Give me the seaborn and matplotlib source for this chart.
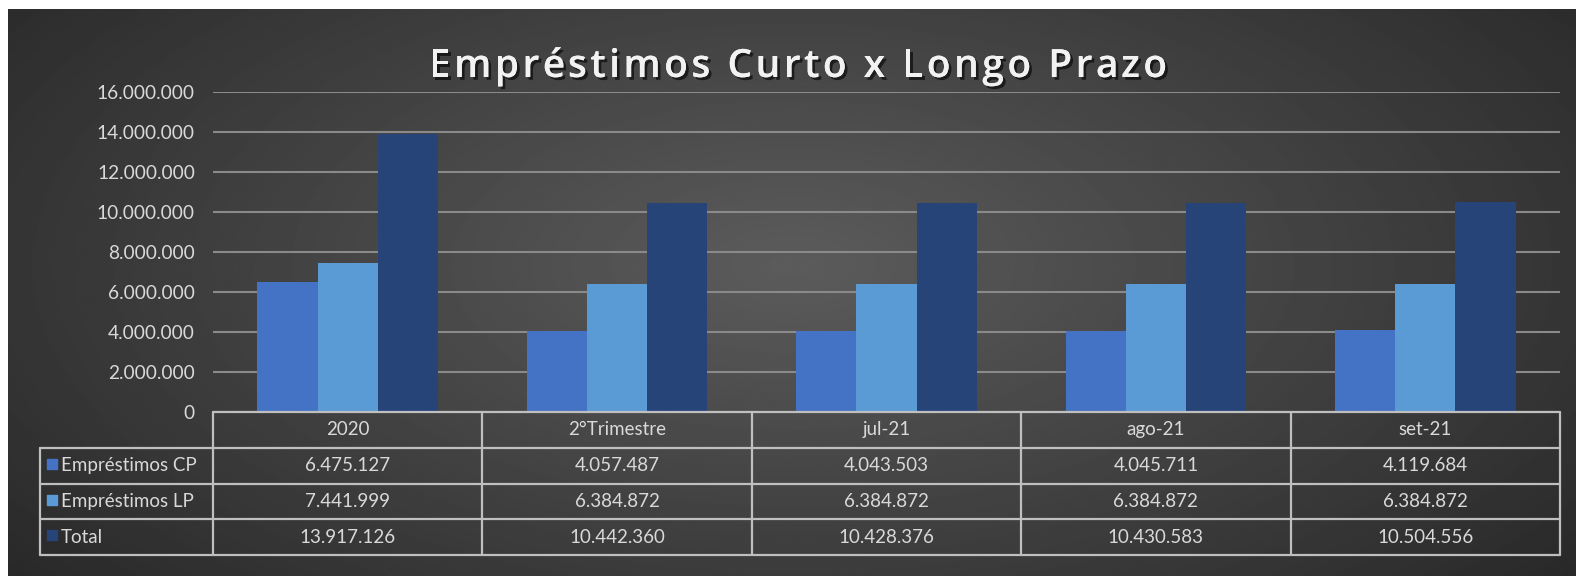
import numpy as np
import pandas as pd
import matplotlib
matplotlib.use("Agg")
import matplotlib.pyplot as plt
import matplotlib.patheffects as pe
from matplotlib.textpath import TextPath
from matplotlib.font_manager import FontProperties
import seaborn as sns

categories = ["2020", "2°Trimestre", "jul-21", "ago-21", "set-21"]
cp_values = [6475127, 4057487, 4043503, 4045711, 4119684]
lp_values = [7441999, 6384872, 6384872, 6384872, 6384872]
total_values = [13917126, 10442360, 10428376, 10430583, 10504556]
series_names = ["Empréstimos CP", "Empréstimos LP", "Total"]
yticks = [0, 2000000, 4000000, 6000000, 8000000, 10000000, 12000000, 14000000, 16000000]
title = "Empréstimos Curto x Longo Prazo"

colors = ["#4472C4", "#5B9BD5", "#264478"]

def br(v):
    return f"{v:,.0f}".replace(",", ".")

sns.set_theme(style="dark")
plt.rcParams['font.family'] = ['Lato', 'DejaVu Sans']

W, H = 1576, 576
fig = plt.figure(figsize=(W / 100, H / 100), dpi=100)
fig.patch.set_facecolor("white")

# background radial gradient
bg = fig.add_axes([8 / W, 0, (W - 8) / W, (H - 9) / H])
bg.set_axis_off()
gy, gx = np.mgrid[0:300, 0:800]
cx, cy = 400, 135
r = np.sqrt(((gx - cx) / 520.0) ** 2 + ((gy - cy) / 260.0) ** 2)
val = np.clip(0.36 - 0.20 * r, 0.15, 0.40)
bg.imshow(val, cmap="gray", vmin=0, vmax=1, aspect="auto", interpolation="bilinear")

def px_axes(x0, y0, x1, y1):
    return fig.add_axes([x0 / W, 1 - y1 / H, (x1 - x0) / W, (y1 - y0) / H])

ax = px_axes(213, 92, 1560, 412)
ax.patch.set_alpha(0)

df = pd.DataFrame({
    "cat": categories * 3,
    "serie": sum([[s] * len(categories) for s in series_names], []),
    "valor": cp_values + lp_values + total_values,
})
sns.barplot(data=df, x="cat", y="valor", hue="serie", palette=colors,
            width=0.67, gap=0, saturation=1, ax=ax, legend=False, zorder=3)
for p in ax.patches:
    p.set_edgecolor("none")

ax.set_xlim(-0.5, len(categories) - 0.5)
ax.set_ylim(0, 16000000)
ax.set_yticks(yticks)
ax.set_yticklabels([br(v) for v in yticks], color="#d9d9d9", fontsize=13.8)
ax.tick_params(axis="y", length=0, pad=13)
ax.set_xticks([])
ax.set_xlabel("")
ax.set_ylabel("")
for s in ax.spines.values():
    s.set_visible(False)
ax.grid(axis="y", color="#8a8a8a", linewidth=1.5, zorder=0)
ax.grid(axis="x", visible=False)

# title with letter spacing
tfs = 28
tprop = FontProperties(family="Open Sans", weight="semibold", size=tfs)
track = 3.5  # px extra between chars
pxpt = 100 / 72.0
adv = []
for i in range(len(title)):
    a = TextPath((0, 0), "|" + title[: i + 1] + "|", prop=tprop).get_extents().width
    b = TextPath((0, 0), "|" + title[:i] + "|", prop=tprop).get_extents().width
    adv.append((a - b) * pxpt)
total_w = sum(adv) + track * (len(title) - 1)
x = 798 - total_w / 2
ty = 1 - 62 / H
for ch, a in zip(title, adv):
    if ch != " ":
        fig.text(x / W, ty, ch, ha="left", va="center_baseline", color="#f2f2f2",
                 fontproperties=tprop,
                 path_effects=[pe.withSimplePatchShadow(offset=(2, -2), shadow_rgbFace="black", alpha=0.6),
                               pe.Normal()])
    x += a + track

# data table
tab = px_axes(213, 412, 1560, 555)
tab.set_axis_off()
tab.set_xlim(-0.5, len(categories) - 0.5)
tab.set_ylim(4, 0)
unit = (1560 - 213) / len(categories)
left = -0.5 - (213 - 40) / unit
lc = "#bfbfbf"
lw = 1.6
right = len(categories) - 0.5
tab.plot([-0.5, right], [0, 0], color=lc, lw=lw, clip_on=False)
for row in range(1, 5):
    tab.plot([left, right], [row, row], color=lc, lw=lw, clip_on=False)
tab.plot([left, left], [1, 4], color=lc, lw=lw, clip_on=False)
for i in range(len(categories) + 1):
    tab.plot([i - 0.5, i - 0.5], [0, 4], color=lc, lw=lw, clip_on=False)
tc = "#d9d9d9"
fs = 13.5
for i, c in enumerate(categories):
    tab.text(i, 0.5, c, ha="center", va="center", color=tc, fontsize=fs)
for r_i, (name, vals, col) in enumerate(zip(series_names, [cp_values, lp_values, total_values], colors)):
    y = r_i + 1.5
    tab.scatter([left + 0.045], [y - 0.05], marker="s", s=50, color=col, clip_on=False, zorder=4)
    tab.text(left + 0.077, y, name, ha="left", va="center", color=tc, fontsize=fs)
    for i, v in enumerate(vals):
        tab.text(i, y, br(v), ha="center", va="center", color=tc, fontsize=fs)

fig.savefig("out.png", dpi=100, facecolor=fig.get_facecolor())
